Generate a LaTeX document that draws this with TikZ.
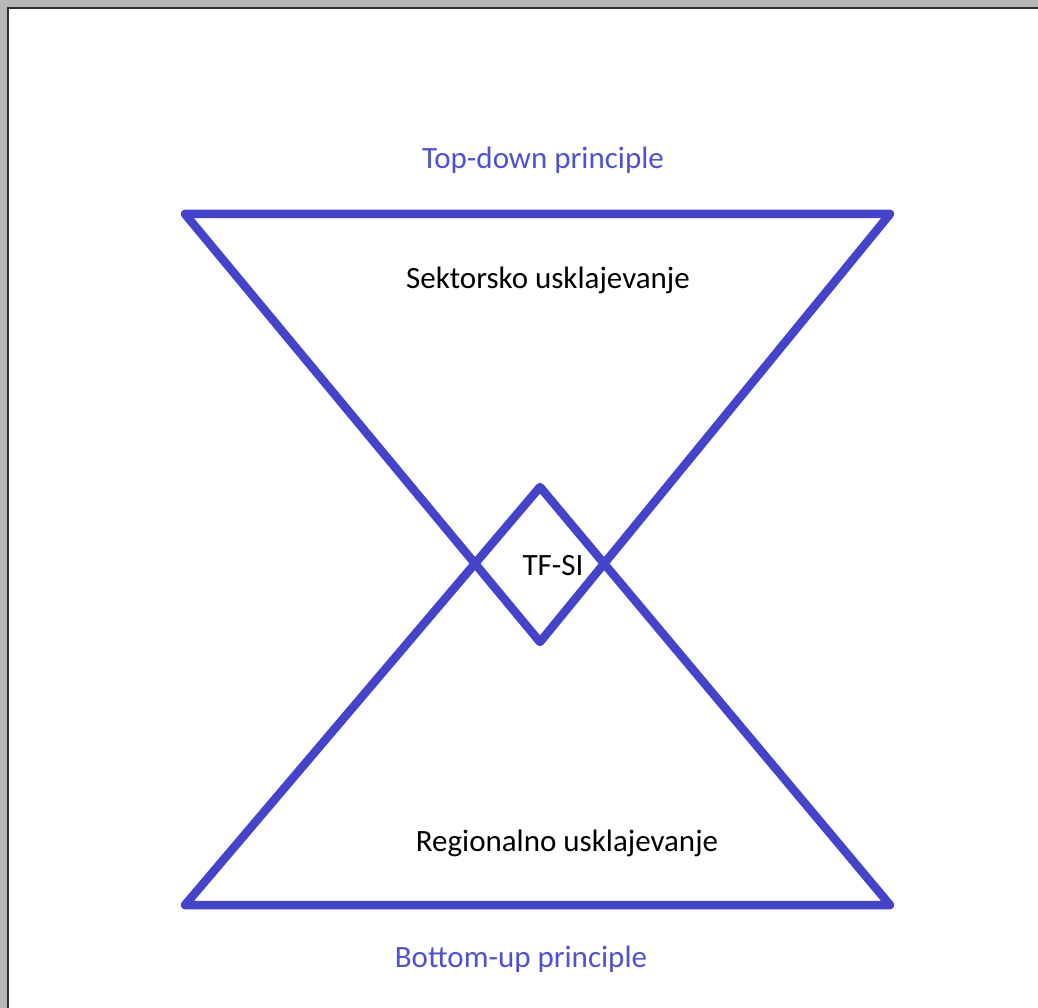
\documentclass[tikz,border=0pt]{standalone}
\usepackage{fontspec}
\setmainfont{Carlito}
\definecolor{lineblue}{HTML}{4343CC}
\definecolor{textblue}{HTML}{5050D2}
\definecolor{framegray}{HTML}{B8B8B8}
\definecolor{framedark}{HTML}{303030}
\begin{document}
\begin{tikzpicture}[x=1pt,y=-1pt,
  shape line/.style={draw=lineblue,line width=8.5pt,line join=round,line cap=round},
  lbl/.style={font=\fontsize{31}{36}\selectfont,text=black,inner sep=0pt},
  blbl/.style={font=\fontsize{31}{36}\selectfont,text=textblue,inner sep=0pt}]
\useasboundingbox (0,0) rectangle (1038,1008);
\fill[white] (0,0) rectangle (1038,1008);
% window frame
\fill[framegray] (0,0) rectangle (1038,7);
\fill[framegray] (0,0) rectangle (7,1008);
\draw[framedark,line width=2pt] (8,1008) -- (8,8) -- (1038,8);
% corner coordinates
\coordinate (tl) at (185,214);
\coordinate (tr) at (890,214);
\coordinate (tapex) at (540,642);
\coordinate (bl) at (185,905);
\coordinate (br) at (890,905);
\coordinate (bapex) at (540,487);
% triangles
\draw[shape line] (tl) -- (tr) -- (tapex) -- cycle;
\draw[shape line] (bl) -- (br) -- (bapex) -- cycle;
% labels
\node[blbl] (top) at (543,160) {Top-down principle};
\node[lbl] (sek) at (548,280) {Sektorsko usklajevanje};
\node[lbl] (tf) at (553,566) {TF-SI};
\node[lbl] (reg) at (567,843) {Regionalno usklajevanje};
\node[blbl] (bot) at (521,959) {Bottom-up principle};
\end{tikzpicture}
\end{document}
